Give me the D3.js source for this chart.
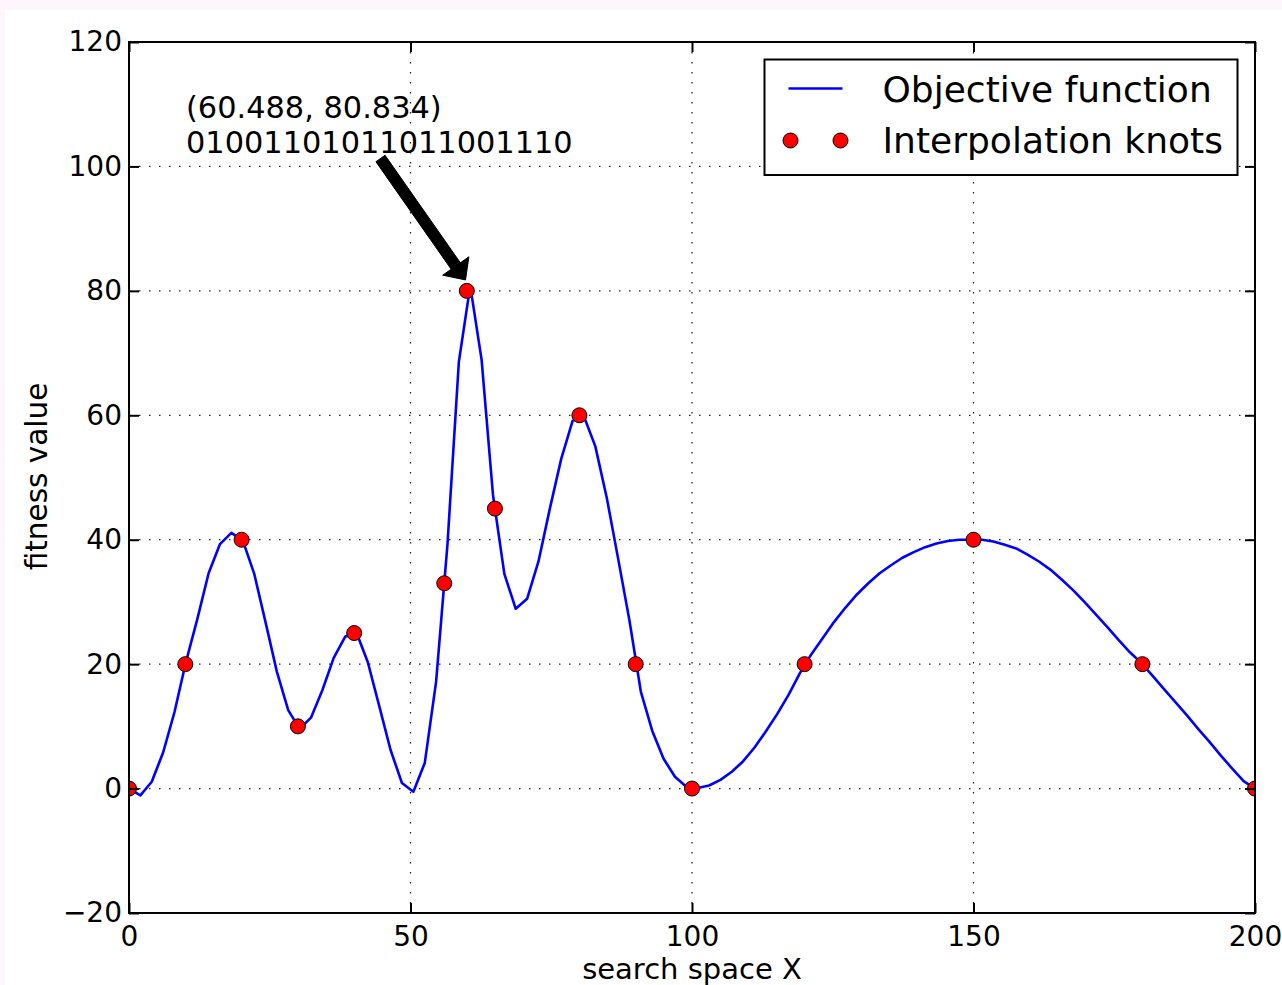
<!DOCTYPE html>
<html>
<head>
<meta charset="utf-8">
<script src="https://cdn.jsdelivr.net/npm/d3@7"></script>
<style>
  body { margin: 0; background: #fdf7fd; }
  svg { display: block; }
  text { font-family: "DejaVu Sans", sans-serif; fill: #000; }
</style>
</head>
<body>
<div id="chart"></div>
<script>
// objective function, sampled along the search space
const fnX = [0, 2.02, 4.04, 6.06, 8.08, 10.10, 12.12, 14.14, 16.16, 18.18,
  20.20, 22.22, 24.24, 26.26, 28.28, 30.30, 32.32, 34.34, 36.36, 38.38,
  40.40, 42.42, 44.44, 46.46, 48.48, 50.51, 52.53, 54.55, 56.57, 58.59,
  60.61, 62.63, 64.65, 66.67, 68.69, 70.71, 72.73, 74.75, 76.77, 78.79,
  80.81, 82.83, 84.85, 86.87, 88.89, 90.91, 92.93, 94.95, 96.97, 98.99,
  101.01, 103.03, 105.05, 107.07, 109.09, 111.11, 113.13, 115.15, 117.17, 119.19,
  121.21, 123.23, 125.25, 127.27, 129.29, 131.31, 133.33, 135.35, 137.37, 139.39,
  141.41, 143.43, 145.45, 147.47, 149.49, 151.52, 153.54, 155.56, 157.58, 159.60,
  161.62, 163.64, 165.66, 167.68, 169.70, 171.72, 173.74, 175.76, 177.78, 179.80,
  181.82, 183.84, 185.86, 187.88, 189.90, 191.92, 193.94, 195.96, 197.98, 200];
const fnY = [0, -1.1, 1.1, 5.8, 12.3, 20.3, 27.2, 34.6, 39.3, 41.1,
  39.9, 34.6, 26.8, 18.8, 12.6, 9.6, 11.4, 15.8, 21.0, 24.4,
  25.1, 20.3, 13.3, 6.2, 0.9, -0.5, 4.1, 17.2, 39.3, 68.6,
  80.8, 68.9, 47.2, 34.5, 28.9, 30.5, 36.5, 45.0, 53.0, 59.1,
  59.8, 55.0, 46.8, 37.0, 27.0, 15.6, 9.3, 4.8, 1.9, 0.3,
  0.1, 0.5, 1.4, 2.7, 4.4, 6.6, 9.2, 12.0, 15.1, 18.6,
  21.6, 24.2, 26.8, 29.1, 31.2, 33.0, 34.6, 35.9, 37.1, 38.0,
  38.8, 39.4, 39.8, 40.0, 40.0, 40.0, 39.7, 39.2, 38.6, 37.6,
  36.5, 35.2, 33.6, 31.9, 30.0, 28.0, 26.0, 23.9, 21.9, 20.2,
  18.1, 16.0, 13.9, 11.8, 9.6, 7.5, 5.3, 3.2, 1.2, 0];

// interpolation knots
const knotX = [0, 10, 20, 30, 40, 56, 60, 65, 80, 90, 100, 120, 150, 180, 200];
const knotY = [0, 20, 40, 10, 25, 33, 80, 45, 60, 20, 0, 20, 40, 20, 0];

const xTicks = [0, 50, 100, 150, 200];
const yTicks = [-20, 0, 20, 40, 60, 80, 100, 120];

const seriesNames = ["Objective function", "Interpolation knots"];
const annoLines = ["(60.488, 80.834)", "01001101011011001110"];
const annoPoint = [60.488, 80.834];

(function() {
    const W = 1282, H = 985;
    const margin = { top: 42, right: 27, bottom: 72, left: 129 },
        width = W - margin.left - margin.right,
        height = H - margin.top - margin.bottom;

    const root = d3.select("#chart").append("svg")
        .attr("width", W)
        .attr("height", H);

    // white figure on the pinkish page
    root.append("rect")
        .attr("x", 5).attr("y", 10)
        .attr("width", W - 5).attr("height", H - 10)
        .attr("fill", "#fff");

    const svg = root.append("g")
        .attr("transform", `translate(${margin.left},${margin.top})`);

    const x = d3.scaleLinear().domain([0, 200]).range([0, width]);
    const y = d3.scaleLinear().domain([-20, 120]).range([height, 0]);

    svg.append("clipPath").attr("id", "plot-clip")
        .append("rect").attr("width", width).attr("height", height);

    // dotted grid
    const grid = svg.append("g")
        .attr("stroke", "#222")
        .attr("stroke-width", 1.3)
        .attr("stroke-dasharray", "1.5 8.5");
    grid.selectAll(".gx").data(xTicks).enter().append("line")
        .attr("x1", d => x(d)).attr("x2", d => x(d))
        .attr("y1", 0).attr("y2", height);
    grid.selectAll(".gy").data(yTicks).enter().append("line")
        .attr("x1", 0).attr("x2", width)
        .attr("y1", d => y(d)).attr("y2", d => y(d));

    const plot = svg.append("g").attr("clip-path", "url(#plot-clip)");

    const line = d3.line()
        .x(d => x(d[0]))
        .y(d => y(d[1]));

    plot.append("path")
        .datum(fnX.map((v, i) => [v, fnY[i]]))
        .attr("fill", "none")
        .attr("stroke", "#0000ff")
        .attr("stroke-width", 2.6)
        .attr("stroke-linejoin", "round")
        .attr("d", line);

    plot.selectAll(".knot")
        .data(knotX.map((v, i) => [v, knotY[i]]))
        .enter().append("circle")
        .attr("cx", d => x(d[0]))
        .attr("cy", d => y(d[1]))
        .attr("r", 7.5)
        .attr("fill", "#ff0000")
        .attr("stroke", "#000")
        .attr("stroke-width", 1);

    // axes: inward ticks on all four sides
    const styleAxis = g => {
        g.select(".domain").remove();
        g.selectAll(".tick line").attr("stroke", "#000").attr("stroke-width", 2);
        g.selectAll(".tick text")
            .style("font-family", "'DejaVu Sans', sans-serif")
            .style("font-size", "28px")
            .attr("fill", "#000");
    };

    svg.append("g")
        .attr("transform", `translate(0,${height})`)
        .call(d3.axisBottom(x).tickValues(xTicks).tickSizeInner(-10).tickSizeOuter(0).tickPadding(13))
        .call(styleAxis);
    svg.append("g")
        .call(d3.axisLeft(y).tickValues(yTicks).tickSizeInner(-10).tickSizeOuter(0).tickPadding(7))
        .call(styleAxis);
    svg.append("g")
        .call(d3.axisTop(x).tickValues(xTicks).tickSizeInner(-10).tickSizeOuter(0).tickFormat(""))
        .call(styleAxis);
    svg.append("g")
        .attr("transform", `translate(${width},0)`)
        .call(d3.axisRight(y).tickValues(yTicks).tickSizeInner(-10).tickSizeOuter(0).tickFormat(""))
        .call(styleAxis);

    // frame
    svg.append("rect")
        .attr("width", width).attr("height", height)
        .attr("fill", "none")
        .attr("stroke", "#000")
        .attr("stroke-width", 2);

    // axis labels
    svg.append("text")
        .attr("x", width / 2)
        .attr("y", height + 66)
        .attr("text-anchor", "middle")
        .style("font-size", "29px")
        .text("search space X");
    svg.append("text")
        .attr("transform", `translate(${-82},${height / 2 - 1}) rotate(-90)`)
        .attr("text-anchor", "middle")
        .style("font-size", "29.5px")
        .text("fitness value");

    // annotation text and arrow
    const anno = svg.append("text")
        .attr("x", 57)
        .attr("y", 76)
        .style("font-size", "30.4px");
    anno.selectAll("tspan").data(annoLines).enter().append("tspan")
        .attr("x", 57)
        .attr("dy", (d, i) => i === 0 ? 0 : 35)
        .text(d => d);

    const tip0 = [x(annoPoint[0]), y(annoPoint[1])];
    const tail = [251.5, 116.5];
    const dx = tip0[0] - tail[0], dy = tip0[1] - tail[1];
    const len = Math.hypot(dx, dy);
    const ux = dx / len, uy = dy / len, nx = -uy, ny = ux;
    const tip = [tip0[0] - 7 * ux, tip0[1] - 7 * uy];
    const headLen = 17, headW = 16, shaftW = 5.6;
    const base = [tip[0] - headLen * ux, tip[1] - headLen * uy];
    const pts = [
        [tail[0] + nx * shaftW, tail[1] + ny * shaftW],
        [base[0] + nx * shaftW, base[1] + ny * shaftW],
        [base[0] + nx * headW, base[1] + ny * headW],
        tip,
        [base[0] - nx * headW, base[1] - ny * headW],
        [base[0] - nx * shaftW, base[1] - ny * shaftW],
        [tail[0] - nx * shaftW, tail[1] - ny * shaftW]
    ];
    svg.append("path")
        .attr("d", "M" + pts.map(p => p.join(",")).join("L") + "Z")
        .attr("fill", "#000")
        .attr("stroke", "#000")
        .attr("stroke-width", 1);

    // legend
    const lg = svg.append("g").attr("transform", `translate(${635.5},${17.5})`);
    lg.append("rect")
        .attr("width", 473).attr("height", 115.5)
        .attr("fill", "#fff")
        .attr("stroke", "#000")
        .attr("stroke-width", 2);
    lg.append("line")
        .attr("x1", 24).attr("x2", 78)
        .attr("y1", 29).attr("y2", 29)
        .attr("stroke", "#0000ff")
        .attr("stroke-width", 2.6);
    lg.selectAll(".lgknot").data([26, 76]).enter().append("circle")
        .attr("cx", d => d).attr("cy", 81)
        .attr("r", 7.5)
        .attr("fill", "#ff0000")
        .attr("stroke", "#000")
        .attr("stroke-width", 1);
    lg.selectAll(".lgtext").data(seriesNames).enter().append("text")
        .attr("x", 118)
        .attr("y", (d, i) => 42.5 + i * 51)
        .style("font-size", "36px")
        .text(d => d);
})();
</script>
</body>
</html>
